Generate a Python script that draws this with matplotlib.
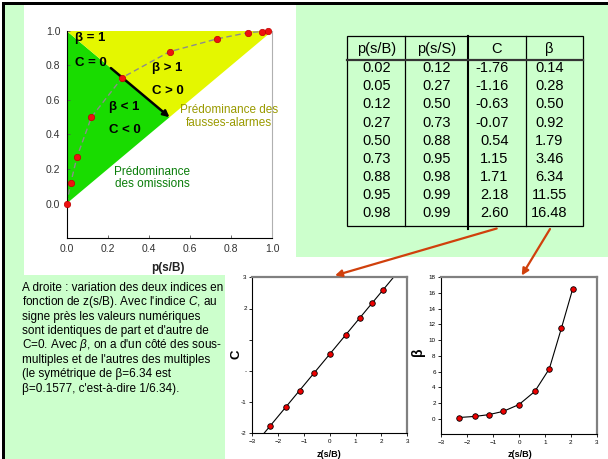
import numpy as np
import matplotlib
matplotlib.use('Agg')
import matplotlib.pyplot as plt
from matplotlib.patches import Rectangle, Polygon

plt.rcParams['font.family'] = ['Liberation Sans', 'DejaVu Sans']
plt.rcParams['mathtext.fontset'] = 'custom'
plt.rcParams['mathtext.rm'] = 'Liberation Sans'
plt.rcParams['mathtext.it'] = 'Liberation Sans:italic'
plt.rcParams['mathtext.bf'] = 'Liberation Sans:bold'

# ---------------- data ----------------
p_sB = [0.02, 0.05, 0.12, 0.27, 0.50, 0.73, 0.88, 0.95, 0.98]
p_sS = [0.12, 0.27, 0.50, 0.73, 0.88, 0.95, 0.98, 0.99, 0.99]
C_vals = [-1.76, -1.16, -0.63, -0.07, 0.54, 1.15, 1.71, 2.18, 2.60]
beta_vals = [0.14, 0.28, 0.50, 0.92, 1.79, 3.46, 6.34, 11.55, 16.48]
z_sB = [-2.31, -1.70, -1.17, -0.61, 0.0, 0.61, 1.17, 1.64, 2.07]

roc_x = [0.0, 0.02, 0.05, 0.12, 0.27, 0.50, 0.73, 0.88, 0.95, 0.98]
roc_y = [0.0, 0.12, 0.27, 0.50, 0.73, 0.88, 0.954, 0.99, 0.997, 0.999]

region_omissions = [(0, 0), (0, 1), (0.5, 0.5)]
region_fa = [(0, 1), (1, 1), (0.5, 0.5)]
crit_arrow_from = (0.215, 0.785)
crit_arrow_to = (0.5, 0.5)

table_header = ['p(s/B)', 'p(s/S)', 'C', 'β']

roc_ticks = [0.0, 0.2, 0.4, 0.6, 0.8, 1.0]
c_yticks = [-2, -1, 0, 1, 2, 3]
c_yticklabels = ['-2', '-1', '-', '', '2', '3']
z_ticks = [-3, -2, -1, 0, 1, 2, 3]
beta_yticks = [0, 2, 4, 6, 8, 10, 12, 14, 16, 18]

text_lines = [
    "A droite : variation des deux indices en",
    "fonction de z(s/B). Avec l'indice $C$, au",
    "signe près les valeurs numériques",
    "sont identiques de part et d'autre de",
    "C=0. Avec $\\beta$, on a d'un côté des sous-",
    "multiples et de l'autres des multiples",
    "(le symétrique de β=6.34 est",
    "β=0.1577, c'est-à-dire 1/6.34).",
]

# ---------------- figure ----------------
W, H = 608, 459
fig = plt.figure(figsize=(W / 100, H / 100), dpi=100)
PANEL = '#ccffcc'

bg = fig.add_axes([0, 0, 1, 1], zorder=0)
bg.set_xlim(0, W); bg.set_ylim(H, 0); bg.axis('off')
bg.add_patch(Rectangle((0, 0), W, H, fc='white', ec='none'))
bg.add_patch(Rectangle((5, 5), W - 5, H - 5, fc=PANEL, ec='none'))
bg.add_patch(Rectangle((24, 5), 272, 270, fc='white', ec='none'))
bg.add_patch(Rectangle((225, 257), W - 225, H - 257, fc='white', ec='none'))
bg.add_patch(Rectangle((2.3, 2.3), W, 2.7, fc='black', ec='none'))
bg.add_patch(Rectangle((2.3, 2.3), 2.7, H, fc='black', ec='none'))

# ---- table ----
tx0, tx1 = 347.3, 583.3
ty0, ty1 = 36, 226
col_x = [405, 468.3, 525.7]
bg.add_patch(Rectangle((tx0, ty0), tx1 - tx0, ty1 - ty0, fc='none', ec='black', lw=0.9))
bg.plot([col_x[0]] * 2, [ty0, ty1], color='black', lw=0.9)
bg.plot([col_x[1]] * 2, [ty0, 228.5], color='black', lw=1.5)
bg.plot([col_x[2]] * 2, [ty0, ty1], color='black', lw=0.9)
bg.plot([tx0, tx1], [60, 60], color='#333333', lw=1.6)
hdr_x = [376.2, 436.7, 497.0, 549.5]
for hx, h in zip(hdr_x, table_header):
    bg.text(hx, 49.3, h, ha='center', va='center', fontsize=10.5)
row_y0, row_dy = 68.3, 18.1
for i in range(len(p_sB)):
    yy = row_y0 + i * row_dy
    bg.text(376.2, yy, f"{p_sB[i]:.2f}", ha='center', va='center', fontsize=10.5)
    bg.text(436.7, yy, f"{p_sS[i]:.2f}", ha='center', va='center', fontsize=10.5)
    bg.text(508.5, yy, f"{C_vals[i]:.2f}", ha='right', va='center', fontsize=10.5)
    bg.text(549.5, yy, f"{beta_vals[i]:.2f}", ha='center', va='center', fontsize=10.5)

# ---- left text ----
line_y0, line_dy = 291.0, 14.37
for i, line in enumerate(text_lines):
    bg.text(21.7, line_y0 + i * line_dy, line, ha='left', va='baseline', fontsize=8.5)

# ---------------- ROC chart ----------------
ax = fig.add_axes([66.7 / W, 1 - 238 / H, (272.3 - 66.7) / W, (238 - 31) / H], zorder=2)
ax.set_facecolor('none')
ax.set_xlim(0, 1); ax.set_ylim(-0.2, 1.0)
ax.add_patch(Polygon(region_omissions, closed=True, fc='#19dc00', ec='none', zorder=1))
ax.add_patch(Polygon(region_fa, closed=True, fc='#e4f700', ec='none', zorder=1))
ax.plot(roc_x, roc_y, color='#8c8c8c', lw=1.0, dashes=(4, 2.5), zorder=2)
ax.plot(roc_x, roc_y, 'o', ls='none', ms=4.6, mfc='#ee1111', mec='#c00000', mew=0.5,
        zorder=4, clip_on=False)
ax.annotate('', xy=crit_arrow_to, xytext=crit_arrow_from,
            arrowprops=dict(arrowstyle='-|>', color='black', lw=1.8, mutation_scale=9,
                            shrinkA=0, shrinkB=0), zorder=3)
bold = dict(fontsize=9.5, fontweight='bold', color='black', va='center', ha='left', zorder=5)
ax.text(0.04, 0.96, 'β = 1', **bold)
ax.text(0.04, 0.815, 'C = 0', **bold)
ax.text(0.415, 0.785, 'β > 1', **bold)
ax.text(0.415, 0.655, 'C > 0', **bold)
ax.text(0.205, 0.562, 'β < 1', **bold)
ax.text(0.205, 0.428, 'C < 0', **bold)
ax.text(0.79, 0.505, 'Prédominance des\nfausses-alarmes', ha='center', va='center',
        fontsize=8.5, color='#9a9a00', linespacing=1.05, zorder=5)
ax.text(0.417, 0.148, 'Prédominance\ndes omissions', ha='center', va='center',
        fontsize=8.5, color='#0a7d0a', linespacing=1.05, zorder=5)
ax.set_xticks(roc_ticks)
ax.set_xticklabels([f"{t:.1f}" for t in roc_ticks])
ax.set_yticks(roc_ticks)
ax.set_yticklabels([f"{t:.1f}" for t in roc_ticks])
ax.tick_params(direction='in', length=2.5, width=0.6, labelsize=7.5, labelcolor='#333333',
               color='#555555')
ax.tick_params(axis='y', pad=4.5)
ax.tick_params(axis='x', pad=4.0)
for s in ['left', 'bottom']:
    ax.spines[s].set_color('black'); ax.spines[s].set_linewidth(0.8)
ax.spines['right'].set_color('#b0b0b0'); ax.spines['right'].set_linewidth(0.8)
ax.spines['top'].set_visible(False)
fig.text(168 / W, 1 - 268 / H, 'p(s/B)', ha='center', va='center', fontsize=8.5,
         fontweight='bold', color='#222222')

# ---------------- C vs z chart ----------------
def style_small(a):
    a.set_facecolor('none')
    for s in ['left', 'bottom']:
        a.spines[s].set_color('black'); a.spines[s].set_linewidth(0.8)
    for s in ['top', 'right']:
        a.spines[s].set_color('#808080'); a.spines[s].set_linewidth(1.6)
    a.tick_params(direction='out', length=2.5, width=0.6, labelsize=4.5, pad=1.5)

axc = fig.add_axes([252.3 / W, 1 - 433.3 / H, 155 / W, 156 / H], zorder=2)
style_small(axc)
axc.set_xlim(-3, 3); axc.set_ylim(-2, 3)
fit = np.polyfit(z_sB, C_vals, 1)
zz = np.array(axc.get_xlim())
axc.plot(zz, np.polyval(fit, zz), color='black', lw=0.8)
axc.plot(z_sB, C_vals, 'o', ls='none', ms=4, mfc='#ee0000', mec='black', mew=0.6)
axc.set_xticks(z_ticks)
axc.set_yticks(c_yticks)
axc.set_yticklabels(c_yticklabels)
fig.text(236.5 / W, 1 - 354 / H, 'C', rotation=90, ha='center', va='center',
         fontsize=9.5, fontweight='bold')
fig.text(329 / W, 1 - 458.6 / H, 'z(s/B)', ha='center', va='bottom', fontsize=6.5,
         fontweight='bold')

# ---------------- beta vs z chart ----------------
axb = fig.add_axes([441.3 / W, 1 - 434.3 / H, 155.4 / W, 157 / H], zorder=2)
style_small(axb)
axb.set_xlim(-3, 3); axb.set_ylim(-2, 18)
axb.plot(z_sB, beta_vals, color='black', lw=0.8)
axb.plot(z_sB, beta_vals, 'o', ls='none', ms=4, mfc='#ee0000', mec='black', mew=0.6)
axb.set_xticks(z_ticks)
axb.set_yticks(beta_yticks)
fig.text(418 / W, 1 - 352 / H, 'β', rotation=90, ha='center', va='center',
         fontsize=10, fontweight='bold')
fig.text(520 / W, 1 - 458.6 / H, 'z(s/B)', ha='center', va='bottom', fontsize=6.5,
         fontweight='bold')

# ---------------- connecting arrows ----------------
top = fig.add_axes([0, 0, 1, 1], zorder=5)
top.set_xlim(0, W); top.set_ylim(H, 0); top.axis('off'); top.patch.set_alpha(0)
arrow_kw = dict(arrowstyle='-|>', color='#d0400c', lw=1.6, mutation_scale=10,
                shrinkA=0, shrinkB=0)
top.annotate('', xy=(335, 275.5), xytext=(496.7, 228.5), arrowprops=arrow_kw)
top.annotate('', xy=(521.7, 275.5), xytext=(550, 229), arrowprops=arrow_kw)

fig.savefig('out.png', dpi=100)
